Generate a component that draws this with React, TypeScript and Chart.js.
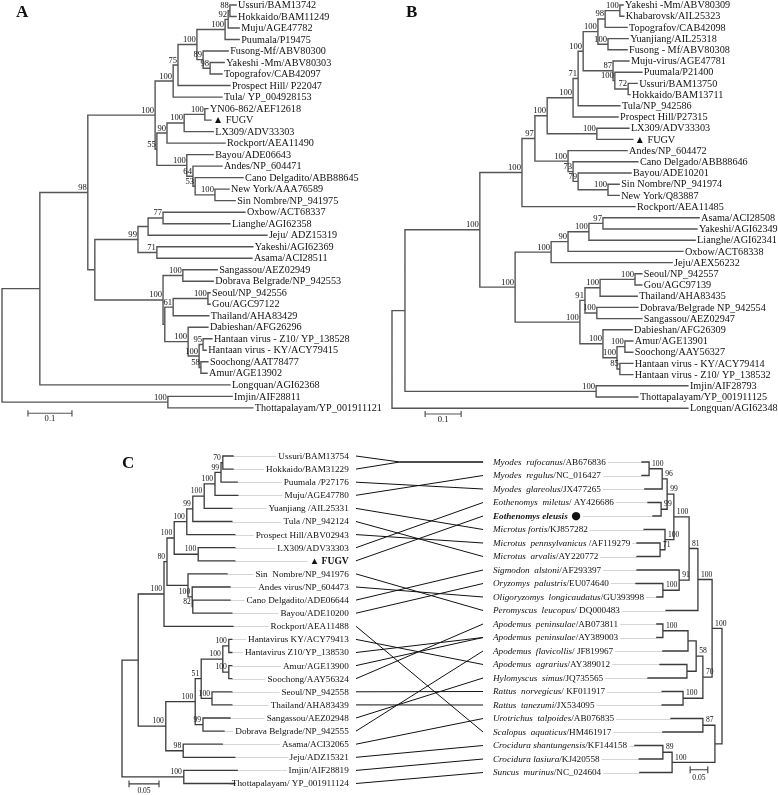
import React, { useEffect, useRef } from "react";
import { Chart, registerables } from "chart.js";

Chart.register(...registerables);

const SERIF = '"Liberation Serif", "Times New Roman", "DejaVu Serif", serif';
const INK = "#111111";

// ================= Panel A (tree: [depth, support, ...children], leaf = index) =================
const aNames = [
  "Ussuri/BAM13742", "Hokkaido/BAM11249", "Muju/AGE47782", "Puumala/P19475", "Fusong-Mf/ABV80300",
  "Yakeshi -Mm/ABV80303", "Topografov/CAB42097", "Prospect Hill/ P22047", "Tula/ YP_004928153",
  "YN06-862/AEF12618", "\u25B2 FUGV", "LX309/ADV33303", "Rockport/AEA11490", "Bayou/ADE06643",
  "Andes/NP_604471", "Cano Delgadito/ABB88645", "New York/AAA76589", "Sin Nombre/NP_941975",
  "Oxbow/ACT68337", "Lianghe/AGI62358", "Jeju/ ADZ15319", "Yakeshi/AGI62369", "Asama/ACI28511",
  "Sangassou/AEZ02949", "Dobrava Belgrade/NP_942553", "Seoul/NP_942556", "Gou/AGC97122",
  "Thailand/AHA83429", "Dabieshan/AFG26296", "Hantaan virus - Z10/ YP_138528",
  "Hantaan virus - KY/ACY79415", "Soochong/AAT78477", "Amur/AGE13902", "Longquan/AGI62368",
  "Imjin/AIF28811", "Thottapalayam/YP_001911121",
];
const aTips = [
  0.532, 0.532, 0.539, 0.539, 0.514, 0.505, 0.5, 0.518, 0.5, 0.468, 0.475, 0.48,
  0.507, 0.48, 0.5, 0.548, 0.516, 0.53, 0.552, 0.518, 0.602, 0.57, 0.568, 0.489,
  0.48, 0.473, 0.473, 0.47, 0.468, 0.477, 0.464, 0.468, 0.466, 0.518, 0.523, 0.57,
];
const aTree = [0, "",
  [0.086, "",
    [0.195, "98",
      [0.348, "100",
        [0.389, "100",
          [0.4, "75",
            [0.443, "100",
              [0.507, "100", [0.514, "92", [0.518, "88", 0, 1], 2], 3],
              [0.457, "89", 4, [0.473, "98", 5, 6]]],
            7],
          8],
        [0.352, "55",
          [0.375, "90", [0.414, "100", [0.461, "100", 9, 10], 11], 12],
          [0.42, "100", 13, [0.434, "64", 14, [0.439, "53", 15, [0.484, "100", 16, 17]]]]]],
      [0.211, "",
        [0.309, "99", [0.332, "", [0.366, "77", 18, 19], 20], [0.352, "71", 21, 22]],
        [0.366, "100",
          [0.411, "100", 23, 24],
          [0.37, "",
            [0.389, "61", [0.468, "100", 25, 26], 27],
            [0.423, "100", 28, [0.448, "100", [0.457, "95", 29, 30], [0.452, "58", 31, 32]]]]]]],
    33],
  [0.377, "100", 34, 35]];
const aBarLen = 0.1;

// ================= Panel B =================
const bNames = [
  "Yakeshi -Mm/ABV80309", "Khabarovsk/AIL25323", "Topografov/CAB42098", "Yuanjiang/AIL25318",
  "Fusong - Mf/ABV80308", "Muju-virus/AGE47781", "Puumala/P21400", "Ussuri/BAM13750",
  "Hokkaido/BAM13711", "Tula/NP_942586", "Prospect Hill/P27315", "LX309/ADV33303", "\u25B2 FUGV",
  "Andes/NP_604472", "Cano Delgado/ABB88646", "Bayou/ADE10201", "Sin Nombre/NP_941974",
  "New York/Q83887", "Rockport/AEA11485", "Asama/ACI28508", "Yakeshi/AGI62349", "Lianghe/AGI62341",
  "Oxbow/ACT68338", "Jeju/AEX56232", "Seoul/NP_942557", "Gou/AGC97139", "Thailand/AHA83435",
  "Dobrava/Belgrade NP_942554", "Sangassou/AEZ02947", "Dabieshan/AFG26309", "Amur/AGE13901",
  "Soochong/AAY56327", "Hantaan virus - KY/ACY79414", "Hantaan virus - Z10/ YP_138532",
  "Imjin/AIF28793", "Thottapalayam/YP_001911125", "Longquan/AGI62348",
];
const bTips = [
  0.642, 0.644, 0.653, 0.656, 0.653, 0.658, 0.694, 0.681, 0.661, 0.633, 0.628, 0.658,
  0.669, 0.653, 0.683, 0.664, 0.631, 0.631, 0.675, 0.853, 0.847, 0.842, 0.808, 0.778,
  0.694, 0.694, 0.681, 0.683, 0.694, 0.667, 0.669, 0.669, 0.669, 0.669, 0.822, 0.683, 0.822,
];
const bTree = [0, "",
  [0.036, "",
    [0.244, "100",
      [0.361, "100",
        [0.397, "97",
          [0.431, "100",
            [0.503, "100",
              [0.517, "71",
                [0.531, "100",
                  [0.572, "100", [0.592, "98", [0.633, "100", 0, 1], 2], [0.6, "100", 3, 4]],
                  [0.614, "87", 5, [0.619, "100", 6, [0.656, "72", 7, 8]]]],
                9],
              10],
            [0.569, "100", 11, 12]],
          [0.489, "100", 13, [0.503, "73", 14, [0.517, "79", 15, [0.6, "100", 16, 17]]]]],
        18],
      [0.342, "100",
        [0.442, "100", [0.489, "90", [0.547, "100", [0.586, "97", 19, 20], 21], 22], 23],
        [0.522, "100",
          [0.536, "91", [0.578, "100", [0.675, "100", 24, 25], 26], [0.569, "100", 27, 28]],
          [0.586, "100", 29, [0.625, "100", [0.647, "100", 30, 31], [0.633, "85", 32, 33]]]]]],
    [0.567, "100", 34, 35]],
  36];
const bBarLen = 0.1;

// ================= Panel C =================
const cVirusNames = [
  "Ussuri/BAM13754", "Hokkaido/BAM31229", "Puumala /P27176", "Muju/AGE47780", "Yuanjiang /AIL25331",
  "Tula /NP_942124", "Prospect Hill/ABV02943", "LX309/ADV33303", "\u25B2 FUGV", "Sin  Nombre/NP_941976",
  "Andes virus/NP_604473", "Cano Delgadito/ADE06644", "Bayou/ADE10200", "Rockport/AEA11488",
  "Hantavirus KY/ACY79413", "Hantavirus Z10/YP_138530", "Amur/AGE13900", "Soochong/AAY56324",
  "Seoul/NP_942558", "Thailand/AHA83439", "Sangassou/AEZ02948", "Dobrava Belgrade/NP_942555",
  "Asama/ACI32065", "Jeju/ADZ15321", "Imjin/AIF28819", "Thottapalayam/ YP_001911124",
];
const cVirusFocal = 8;
const cVirusTips = [
  0.185, 0.185, 0.192, 0.193, 0.183, 0.183, 0.188, 0.188, 0.188, 0.175, 0.18, 0.18, 0.183,
  0.185, 0.183, 0.183, 0.183, 0.183, 0.183, 0.183, 0.18, 0.17, 0.167, 0.188, 0.192, 0.188,
];
const cVirusTree = [0, "",
  [0.027, "",
    [0.07, "100",
      [0.075, "80",
        [0.087, "100",
          [0.108, "100", [0.118, "99", [0.137, "100", [0.155, "100", [0.165, "99", [0.168, "70", 0, 1], 2], 3], 4], 5], 6],
          [0.127, "100", 7, 8]],
        [0.11, "", 9, [0.117, "100", 10, [0.118, "82", 11, 12]]]],
      13],
    [0.073, "100",
      [0.122, "100",
        [0.132, "51", [0.168, "100", [0.178, "100", 14, 15], [0.178, "100", 16, 17]], [0.15, "100", 18, 19]],
        [0.135, "99", 20, 21]],
      [0.102, "98", 22, 23]]],
  [0.103, "100", 24, 25]];

const cHostNames = [
  "Myodes  rufocanus/AB676836", "Myodes  regulus/NC_016427", "Myodes  glareolus/JX477265",
  "Eothenomys  miletus/ AY426686", "Eothenomys eleusis", "Microtus fortis/KJ857282",
  "Microtus  pennsylvanicus /AF119279", "Microtus  arvalis/AY220772", "Sigmodon  alstoni/AF293397",
  "Oryzomys  palustris/EU074640", "Oligoryzomys  longicaudatus/GU393998", "Peromyscus  leucopus/ DQ000483",
  "Apodemus  peninsulae/AB073811", "Apodemus  peninsulae/AY389003", "Apodemus  flavicollis/ JF819967",
  "Apodemus  agrarius/AY389012", "Hylomyscus  simus/JQ735565", "Rattus  norvegicus/ KF011917",
  "Rattus  tanezumi/JX534095", "Urotrichus  talpoides/AB076835", "Scalopus  aquaticus/HM461917",
  "Crocidura shantungensis/KF144158", "Crocidura lasiura/KJ420558", "Suncus  murinus/NC_024604",
];
const cHostFocal = 4;
const cHostTips = [
  0.226, 0.226, 0.218, 0.209, 0.195, 0.22, 0.24, 0.24, 0.24, 0.243, 0.184, 0.158,
  0.184, 0.184, 0.167, 0.175, 0.209, 0.169, 0.169, 0.144, 0.167, 0.246, 0.234, 0.232,
];
const cHostTree = [0, "",
  [0.028, "100",
    [0.068, "100",
      [0.093, "81",
        [0.136, "100",
          [0.155, "99", [0.169, "96", [0.206, "100", 0, 1], 2], [0.172, "99", 3, 4]],
          [0.161, "100", 5, [0.175, "71", 6, 7]]],
        [0.121, "91", 8, [0.167, "100", 9, 10]]],
      11],
    [0.054, "70",
      [0.073, "58", [0.096, "", [0.167, "100", 12, 13], 14], [0.099, "", 15, 16]],
      [0.11, "100", 17, 18]]],
  [0.02, "", [0.054, "87", 19, 20], [0.141, "100", [0.167, "89", 21, 22], 23]]];

// virus index -> host index
const cLinks = [
  [0, 0], [1, 0], [2, 2], [3, 1], [4, 5], [5, 7], [6, 6], [7, 3], [8, 4], [9, 11], [10, 10],
  [11, 8], [12, 9], [13, 20], [14, 15], [15, 13], [16, 13], [17, 12], [18, 17], [19, 18],
  [20, 16], [21, 14], [22, 19], [23, 21], [24, 22], [25, 23],
];
const cJoined = [0, 1];
const cBarLen = 0.05;

// ================= layout (positions / styles) =================
const layoutA = { w: 390, h: 425, x0: 2, ppu: 440, y0: 5, row: 11.51, barX: 0.059, barRow: 35.47, barLabelRow: 35.98, letter: "A", lx: 16, ly: 17 };
const layoutB = { w: 388, h: 425, x0: 2, ppu: 360, y0: 5, row: 11.2, barX: 0.092, barRow: 36.52, barLabelRow: 37.05, letter: "B", lx: 16, ly: 17 };
const layoutC = {
  w: 778, h: 370,
  lx0: 122, lppu: 600, ly0: 31, lrow: 13.1,
  rx0: 722, rppu: 354, ry0: 37, rrow: 13.5,
  labelL: 0.378, linkL: 0.39, joinL: 0.463, labelR: 0.647, linkR: 0.675,
  barLX: 0.0117, barLRow: 25.03, barLLabelRow: 25.6,
  barRX: 0.04, barRRow: 22.8, barRLabelRow: 23.42,
};
const BRANCH_AB = "#555555";
const BRANCH_C = "#3a3a3a";

// ================= tree helpers =================
interface TNode { d: number; s: string; kids: TNode[]; leaf: number; y: number; }

function buildTree(raw: any, tips: number[]): TNode {
  if (typeof raw === "number") return { d: tips[raw], s: "", kids: [], leaf: raw, y: raw };
  const [d, s, ...rest] = raw;
  const kids = rest.map((r: any) => buildTree(r, tips));
  const ys = kids.map((k: TNode) => k.y);
  return { d, s, kids, leaf: -1, y: (Math.min(...ys) + Math.max(...ys)) / 2 };
}
const GAP = { x: NaN, y: NaN };
function branchPoints(n: TNode, out: any[] = []) {
  if (!n.kids.length) return out;
  const ys = n.kids.map((k) => k.y);
  out.push({ x: n.d, y: Math.min(...ys) }, { x: n.d, y: Math.max(...ys) }, GAP);
  n.kids.forEach((k) => {
    out.push({ x: n.d, y: k.y }, { x: k.d, y: k.y }, GAP);
    branchPoints(k, out);
  });
  return out;
}
function internals(n: TNode, out: TNode[] = []) {
  if (n.kids.length) { out.push(n); n.kids.forEach((k) => internals(k, out)); }
  return out;
}
function barPoints(x: number, row: number, len: number) {
  const t = 0.22;
  return [{ x, y: row - t }, { x, y: row + t }, GAP, { x, y: row }, { x: x + len, y: row }, GAP,
    { x: x + len, y: row - t }, { x: x + len, y: row + t }];
}
function lineDs(data: any[], color: string, width: number, xAxisID = "x", yAxisID = "y") {
  return {
    data, showLine: true, borderColor: color, borderWidth: width, pointRadius: 0,
    pointHoverRadius: 0, spanGaps: false, borderCapStyle: "square", fill: false, xAxisID, yAxisID,
  };
}
const hidden = { type: "linear", display: false, bounds: "data" };
const baseOptions = {
  responsive: false, animation: false, events: [],
  layout: { padding: 0 },
  plugins: { legend: { display: false }, tooltip: { enabled: false } },
};

// ================= Panels A & B =================
function makeTreePanel(canvas: HTMLCanvasElement, names: string[], tips: number[], tree: any, barLen: number, L: any) {
  const root = buildTree(tree, tips);
  const nodes = internals(root);
  const plugin = {
    id: "treeText" + L.letter,
    afterDatasetsDraw(chart: any) {
      const { ctx } = chart;
      const xs = chart.scales.x, ys = chart.scales.y;
      ctx.save();
      ctx.fillStyle = INK;
      ctx.textAlign = "left";
      ctx.textBaseline = "middle";
      names.forEach((nm, i) => {
        ctx.font = `10.2px ${SERIF}`;
        ctx.fillText(nm, xs.getPixelForValue(tips[i]) + 2, ys.getPixelForValue(i) + 0.5);
      });
      ctx.font = `8.6px ${SERIF}`;
      ctx.textAlign = "right";
      ctx.textBaseline = "bottom";
      nodes.forEach((n) => {
        if (n.s) ctx.fillText(n.s, xs.getPixelForValue(n.d) - 1, ys.getPixelForValue(n.y) - 0.5);
      });
      ctx.textAlign = "center";
      ctx.textBaseline = "middle";
      ctx.font = `8.6px ${SERIF}`;
      ctx.fillText(String(barLen), xs.getPixelForValue(L.barX + barLen / 2), ys.getPixelForValue(L.barLabelRow));
      ctx.textAlign = "left";
      ctx.textBaseline = "alphabetic";
      ctx.font = `bold 17px ${SERIF}`;
      ctx.fillText(L.letter, chart.chartArea.left + L.lx, chart.chartArea.top + L.ly);
      ctx.restore();
    },
  };
  return new Chart(canvas, {
    type: "scatter",
    data: {
      datasets: [
        lineDs(branchPoints(root), BRANCH_AB, 1.4),
        lineDs(barPoints(L.barX, L.barRow, barLen), BRANCH_AB, 1.2),
      ],
    },
    options: {
      ...baseOptions,
      scales: {
        x: { ...hidden, min: -L.x0 / L.ppu, max: (L.w - L.x0) / L.ppu },
        y: { ...hidden, reverse: true, min: -L.y0 / L.row, max: (L.h - L.y0) / L.row },
      },
    },
    plugins: [plugin],
  } as any);
}

// ================= Panel C (tanglegram) =================
function hostLabel(ctx: any, name: string, x: number, y: number, focal: boolean, draw: boolean) {
  const slash = name.indexOf("/");
  const sp = slash >= 0 ? name.slice(0, slash) : name;
  const rest = slash >= 0 ? name.slice(slash) : "";
  ctx.font = `italic ${focal ? "bold " : ""}9.2px ${SERIF}`;
  if (draw) ctx.fillText(sp, x, y);
  let w = ctx.measureText(sp).width;
  if (focal) {
    ctx.font = `11px "DejaVu Sans", sans-serif`;
    if (draw) ctx.fillText(" \u25CF", x + w, y);
    w += ctx.measureText(" \u25CF").width;
  }
  ctx.font = `9.2px ${SERIF}`;
  if (draw) ctx.fillText(rest, x + w, y);
  w += ctx.measureText(rest).width;
  return w;
}
function virusFont(i: number) {
  return i === cVirusFocal ? `bold 9.6px ${SERIF}` : `9.2px ${SERIF}`;
}

function makeTanglegram(canvas: HTMLCanvasElement) {
  const L = layoutC;
  const left = buildTree(cVirusTree, cVirusTips);
  const right = buildTree(cHostTree, cHostTips);
  const leftNodes = internals(left);
  const rightNodes = internals(right);
  const plugin = {
    id: "tangle",
    beforeDatasetsDraw(chart: any) {
      const { ctx } = chart;
      const { xL, xR, yL, yR } = chart.scales;
      ctx.save();
      ctx.strokeStyle = "#d6d6d6";
      ctx.lineWidth = 1;
      cVirusNames.forEach((nm, i) => {
        ctx.font = virusFont(i);
        const w = ctx.measureText(nm).width;
        const y = Math.round(yL.getPixelForValue(i)) + 0.5;
        ctx.beginPath();
        ctx.moveTo(xL.getPixelForValue(cVirusTips[i]), y);
        ctx.lineTo(xL.getPixelForValue(L.labelL) - w - 2, y);
        ctx.stroke();
      });
      cHostNames.forEach((nm, j) => {
        const w = hostLabel(ctx, nm, 0, 0, j === cHostFocal, false);
        const y = Math.round(yR.getPixelForValue(j)) + 0.5;
        ctx.beginPath();
        ctx.moveTo(xR.getPixelForValue(L.labelR) + w + 2, y);
        ctx.lineTo(xR.getPixelForValue(cHostTips[j]), y);
        ctx.stroke();
      });
      ctx.restore();
    },
    afterDatasetsDraw(chart: any) {
      const { ctx } = chart;
      const { xL, xR, yL, yR } = chart.scales;
      ctx.save();
      // links
      ctx.strokeStyle = "#111";
      ctx.lineWidth = 1;
      const x1 = xL.getPixelForValue(L.linkL);
      const x2 = xR.getPixelForValue(L.linkR);
      const xj = xL.getPixelForValue(L.joinL);
      cLinks.forEach(([v, h]) => {
        const ya = yL.getPixelForValue(v), yb = yR.getPixelForValue(h);
        ctx.beginPath();
        ctx.moveTo(x1, ya);
        if (cJoined.includes(v)) ctx.lineTo(xj, yb);
        ctx.lineTo(x2, yb);
        ctx.stroke();
      });
      ctx.fillStyle = INK;
      // virus labels (right aligned)
      ctx.textBaseline = "middle";
      ctx.textAlign = "right";
      cVirusNames.forEach((nm, i) => {
        ctx.font = virusFont(i);
        ctx.fillText(nm, xL.getPixelForValue(L.labelL), yL.getPixelForValue(i) + 0.5);
      });
      // host labels
      ctx.textAlign = "left";
      cHostNames.forEach((nm, j) => {
        hostLabel(ctx, nm, xR.getPixelForValue(L.labelR), yR.getPixelForValue(j) + 0.5, j === cHostFocal, true);
      });
      // supports
      ctx.font = `7.6px ${SERIF}`;
      ctx.textBaseline = "bottom";
      ctx.textAlign = "right";
      leftNodes.forEach((n) => {
        if (n.s) ctx.fillText(n.s, xL.getPixelForValue(n.d) - 2, yL.getPixelForValue(n.y) - 1);
      });
      ctx.textAlign = "left";
      rightNodes.forEach((n) => {
        if (n.s) ctx.fillText(n.s, xR.getPixelForValue(n.d) + 3, yR.getPixelForValue(n.y) - 1);
      });
      // scale labels
      ctx.textAlign = "center";
      ctx.textBaseline = "middle";
      ctx.fillText(String(cBarLen), xL.getPixelForValue(L.barLX + cBarLen / 2), yL.getPixelForValue(L.barLLabelRow));
      ctx.fillText(String(cBarLen), xR.getPixelForValue(L.barRX + cBarLen / 2), yR.getPixelForValue(L.barRLabelRow));
      // panel letter
      ctx.textAlign = "left";
      ctx.textBaseline = "alphabetic";
      ctx.font = `bold 17px ${SERIF}`;
      ctx.fillText("C", xL.getPixelForValue(0), chart.chartArea.top + 43);
      ctx.restore();
    },
  };
  const rRange = L.w / L.rppu;
  const rMin = -(L.w - L.rx0) / L.rppu;
  return new Chart(canvas, {
    type: "scatter",
    data: {
      datasets: [
        lineDs(branchPoints(left), BRANCH_C, 1.3, "xL", "yL"),
        lineDs(branchPoints(right), BRANCH_C, 1.3, "xR", "yR"),
        lineDs(barPoints(L.barLX, L.barLRow, cBarLen), BRANCH_C, 1.1, "xL", "yL"),
        lineDs(barPoints(L.barRX, L.barRRow, cBarLen), BRANCH_C, 1.1, "xR", "yR"),
      ],
    },
    options: {
      ...baseOptions,
      scales: {
        xL: { ...hidden, axis: "x", min: -L.lx0 / L.lppu, max: (L.w - L.lx0) / L.lppu },
        xR: { ...hidden, axis: "x", reverse: true, min: rMin, max: rMin + rRange },
        yL: { ...hidden, axis: "y", reverse: true, min: -L.ly0 / L.lrow, max: (L.h - L.ly0) / L.lrow },
        yR: { ...hidden, axis: "y", reverse: true, min: -L.ry0 / L.rrow, max: (L.h - L.ry0) / L.rrow },
      },
    },
    plugins: [plugin],
  } as any);
}

export default function App() {
  const refA = useRef<HTMLCanvasElement>(null);
  const refB = useRef<HTMLCanvasElement>(null);
  const refC = useRef<HTMLCanvasElement>(null);
  useEffect(() => {
    const charts = [
      makeTreePanel(refA.current!, aNames, aTips, aTree, aBarLen, layoutA),
      makeTreePanel(refB.current!, bNames, bTips, bTree, bBarLen, layoutB),
      makeTanglegram(refC.current!),
    ];
    return () => charts.forEach((c) => c.destroy());
  }, []);
  return (
    <div style={{ position: "fixed", left: 0, top: 0, width: 778, height: 795, background: "#fff" }}>
      <canvas ref={refA} width={390} height={425} style={{ position: "absolute", left: 0, top: 0 }} />
      <canvas ref={refB} width={388} height={425} style={{ position: "absolute", left: 390, top: 0 }} />
      <canvas ref={refC} width={778} height={370} style={{ position: "absolute", left: 0, top: 425 }} />
    </div>
  );
}
